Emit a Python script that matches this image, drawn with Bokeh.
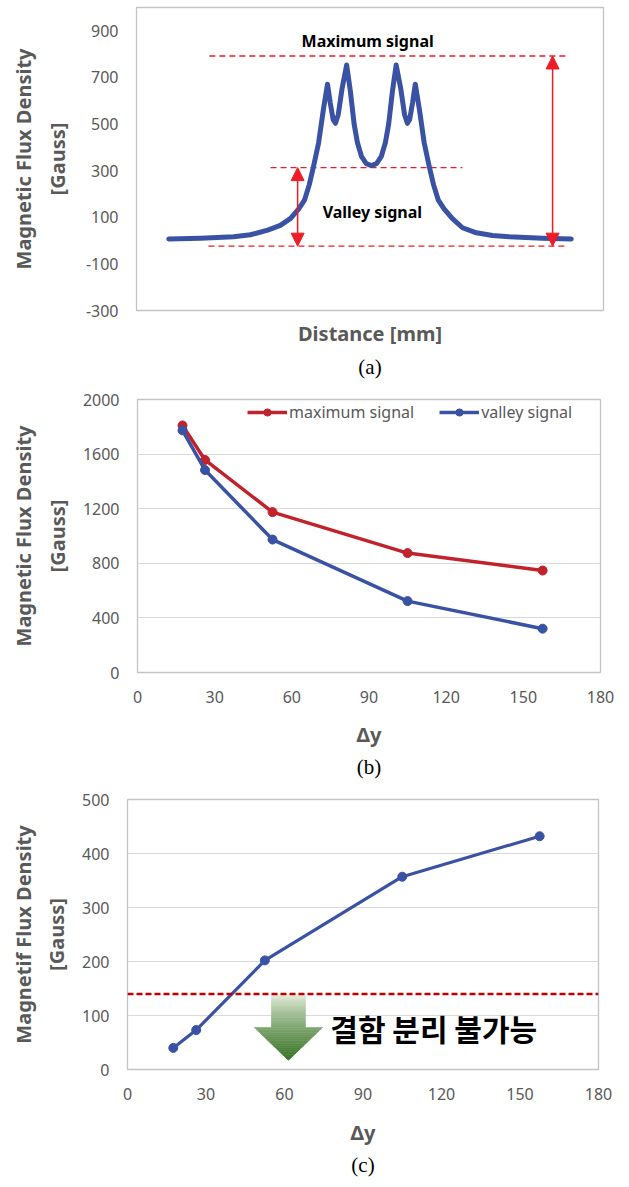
from bokeh.plotting import figure
from bokeh.models import (Label, Span, Arrow, NormalHead, FixedTicker, Range1d, LinearAxis, Title)
from bokeh.layouts import column, row
from bokeh.embed import file_html
from bokeh.resources import INLINE

# ---------------- data ----------------
# (a) magnetic flux density profile along the scan distance (arbitrary mm units)
dist_mm = [6.9, 13.7, 20.8, 24.4, 28.1, 30.8, 33.0, 34.7, 36.0, 37.0, 37.9, 39.0, 40.0,
           40.9, 41.5, 42.1, 42.6, 43.2, 44.0, 45.0, 45.8, 46.6, 47.3, 48.2, 49.2, 50.3,
           51.4, 52.4, 53.3, 54.0, 54.8, 55.6, 56.6, 57.4, 58.0, 58.5, 59.1, 59.7, 60.6,
           61.6, 62.7, 63.6, 64.6, 65.9, 67.6, 69.8, 72.5, 76.2, 79.8, 86.9, 93.1]
flux_a = [7, 10, 16, 25, 45, 65, 95, 135, 175, 240, 317, 420, 560,
          671, 590, 520, 503, 540, 650, 753, 640, 500, 421, 360, 330, 322,
          330, 360, 421, 500, 640, 753, 650, 540, 503, 520, 590, 671, 560,
          420, 317, 240, 175, 135, 95, 55, 35, 22, 16, 10, 7]
a_yticks = [-300, -100, 100, 300, 500, 700, 900]
max_level = 792
valley_level = 313
base_level = -24

# (b) maximum / valley signal vs. delta-y
delta_y = [17.5, 26.25, 52.5, 105, 157.5]
max_signal = [1810, 1557, 1175, 875, 747]
valley_signal = [1774, 1483, 974, 523, 321]
b_yticks = [0, 400, 800, 1200, 1600, 2000]
x_ticks = [0, 30, 60, 90, 120, 150, 180]

# (c) difference signal vs. delta-y
diff_signal = [40, 73, 202, 357, 432]
c_yticks = [0, 100, 200, 300, 400, 500]
threshold = 140

# ---------------- styles ----------------
BLUE = "#3a52a3"
RED_B = "#c0232b"
RED_A = "#ee1c25"
GRAY = "#595959"
TICK_FONT = "Noto Sans"
BOLD_FONT = "Noto Sans"
W = 621


def label_style(ax, size="20px"):
    ax.axis_label_text_font = BOLD_FONT
    ax.axis_label_text_font_style = "bold"
    ax.axis_label_text_font_size = size
    ax.axis_label_text_color = GRAY


def base_style(p, yticks, grid, line1, inner_std):
    p.outline_line_color = "#c3c3c3"
    p.outline_line_width = 1.3
    p.background_fill_color = "white"
    p.border_fill_color = "white"
    ax = p.yaxis[0]
    ax.ticker = FixedTicker(ticks=yticks)
    ax.major_label_overrides = {t: str(t) for t in yticks if t < 0}
    ax.major_tick_line_color = None
    ax.minor_tick_line_color = None
    ax.axis_line_color = None
    ax.major_tick_out = 0
    ax.major_tick_in = 0
    ax.major_label_standoff = 18
    ax.major_label_text_font = TICK_FONT
    ax.major_label_text_font_size = "16px"
    ax.major_label_text_color = GRAY
    ax.axis_label = "[Gauss]"
    ax.axis_label_standoff = inner_std
    label_style(ax)
    outer = LinearAxis(ticker=FixedTicker(ticks=[]), axis_label=line1,
                       axis_line_color=None, major_tick_line_color=None,
                       minor_tick_line_color=None, major_tick_out=0, major_tick_in=0,
                       major_label_standoff=0, axis_label_standoff=4)
    label_style(outer)
    p.add_layout(outer, "left")
    p.xgrid.visible = False
    if grid:
        p.ygrid.grid_line_color = "#d9d9d9"
        p.ygrid.grid_line_width = 1.2
    else:
        p.ygrid.visible = False


def x_style(p, ticks, xlabel, std_label, std_ticks=18):
    ax = p.xaxis[0]
    ax.ticker = FixedTicker(ticks=ticks)
    ax.major_tick_line_color = None
    ax.minor_tick_line_color = None
    ax.axis_line_color = None
    ax.major_tick_out = 0
    ax.major_tick_in = 0
    ax.major_label_standoff = std_ticks
    ax.major_label_text_font = TICK_FONT
    ax.major_label_text_font_size = "16px"
    ax.major_label_text_color = GRAY
    ax.axis_label = xlabel
    ax.axis_label_standoff = std_label
    label_style(ax)


def caption(p, text, standoff):
    p.add_layout(Title(text=text, align="center", text_font="Liberation Serif",
                       text_font_style="normal", text_font_size="21px", text_color="black",
                       standoff=standoff), "below")


# ---------------- panel (a) ----------------
pa = figure(width=W, height=388, x_range=Range1d(0, 100), y_range=Range1d(-300, 1000),
            output_backend="svg", toolbar_location=None, title=None,
            min_border_left=136, min_border_right=18, min_border_top=7, min_border_bottom=78)
base_style(pa, a_yticks, False, "Magnetic Flux Density", 12)
x_style(pa, [], "Distance [mm]", 9, std_ticks=0)

pa.segment(x0=[15.6, 28.7, 15.4], x1=[92.3, 69.8, 91.9],
           y0=[max_level, valley_level, base_level], y1=[max_level, valley_level, base_level],
           line_color=RED_A, line_width=1.3, line_dash="6 4")
pa.line(dist_mm, flux_a, line_color=BLUE, line_width=5, line_join="round", line_cap="round")
for xa, ytop in [(34.5, valley_level), (89.1, max_level)]:
    pa.add_layout(Arrow(start=NormalHead(size=13, fill_color=RED_A, line_color=RED_A),
                        end=NormalHead(size=13, fill_color=RED_A, line_color=RED_A),
                        x_start=xa, y_start=base_level, x_end=xa, y_end=ytop,
                        line_color=RED_A, line_width=1.5))
pa.add_layout(Label(x=49.5, y=857, text="Maximum signal", text_align="center", text_baseline="middle",
                    text_font=BOLD_FONT, text_font_style="bold", text_font_size="16px", text_color="black"))
pa.add_layout(Label(x=50.5, y=123, text="Valley signal", text_align="center", text_baseline="middle",
                    text_font=BOLD_FONT, text_font_style="bold", text_font_size="16px", text_color="black"))
caption(pa, "(a)", 7)

# ---------------- panel (b) ----------------
pb = figure(width=W, height=396, x_range=Range1d(0, 180), y_range=Range1d(0, 2000),
            output_backend="svg", toolbar_location=None, title=None,
            min_border_left=137, min_border_right=21, min_border_top=11, min_border_bottom=112)
base_style(pb, b_yticks, True, "Magnetic Flux Density", 9)
x_style(pb, x_ticks, "Δy", 15)
pb.line(delta_y, max_signal, line_color=RED_B, line_width=3.5, legend_label="maximum signal")
pb.scatter(delta_y, max_signal, size=9, fill_color=RED_B, line_color=RED_B, legend_label="maximum signal")
pb.line(delta_y, valley_signal, line_color=BLUE, line_width=3.5, legend_label="valley signal")
pb.scatter(delta_y, valley_signal, size=9, fill_color=BLUE, line_color=BLUE, legend_label="valley signal")
lg = pb.legend[0]
lg.orientation = "horizontal"
lg.location = (110, 249)
lg.border_line_color = None
lg.background_fill_alpha = 0
lg.padding = 0
lg.margin = 0
lg.spacing = 25
lg.label_standoff = 2
lg.glyph_width = 40
lg.glyph_height = 18
lg.label_height = 18
lg.label_text_font = TICK_FONT
lg.label_text_font_size = "16px"
lg.label_text_color = GRAY
caption(pb, "(b)", 5)

# ---------------- panel (c) ----------------
pc = figure(width=W, height=395, x_range=Range1d(0, 180), y_range=Range1d(0, 500),
            output_backend="svg", toolbar_location=None, title=None,
            min_border_left=127, min_border_right=23, min_border_top=15, min_border_bottom=108)
base_style(pc, c_yticks, True, "Magnetif Flux Density", 9)
x_style(pc, x_ticks, "Δy", 16)

# gradient green arrow (decoration) pointing down from the threshold
arrow_cx, arrow_top, arrow_neck, arrow_tip = 61.5, threshold, 78, 17
shaft_hw, head_hw = 6.5, 13.1
light, dark = (240, 245, 233), (55, 115, 35)


def mix(t):
    c = [int(round(light[i] + (dark[i] - light[i]) * t)) for i in range(3)]
    return "#%02x%02x%02x" % tuple(c)


def hw(y):
    return head_hw * (y - arrow_tip) / (arrow_neck - arrow_tip)


n_sh, n_hd = 14, 18
levels = [arrow_top - (arrow_top - arrow_neck) * i / n_sh for i in range(n_sh + 1)]
levels += [arrow_neck - (arrow_neck - arrow_tip) * i / n_hd for i in range(1, n_hd + 1)]
pxs, pys, pcol = [], [], []
for i in range(len(levels) - 1):
    ya, yb = levels[i], levels[i + 1]
    wa = shaft_hw if i < n_sh else hw(ya)
    wb = shaft_hw if i < n_sh else hw(yb)
    pxs.append([arrow_cx - wa, arrow_cx + wa, arrow_cx + wb, arrow_cx - wb])
    pys.append([ya, ya, yb, yb])
    pcol.append(mix(((arrow_top - (ya + yb) / 2) / (arrow_top - arrow_tip)) ** 0.75))
pc.patches(pxs, pys, fill_color=pcol, line_color=pcol, line_width=0.6)

pc.add_layout(Span(location=threshold, dimension="width", line_color="#c00000",
                   line_width=2.5, line_dash="6 3"))
pc.line(delta_y, diff_signal, line_color=BLUE, line_width=3.2)
pc.scatter(delta_y, diff_signal, size=9, fill_color=BLUE, line_color=BLUE)
pc.add_layout(Label(x=77.5, y=76, text="결함 분리 불가능", text_align="left", text_baseline="middle",
                    text_font="Noto Sans CJK KR", text_font_style="bold", text_font_size="30px",
                    text_color="black"))
caption(pc, "(c)", 5)

layout = column(row(pa), row(pb), row(pc))
open("out.html", "w").write(file_html(layout, INLINE))
